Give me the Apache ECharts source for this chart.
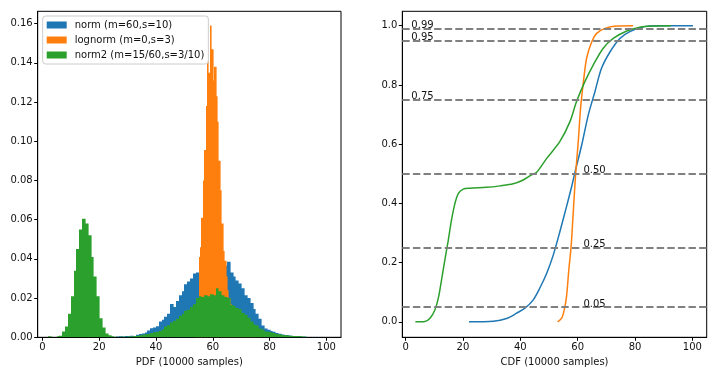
<!DOCTYPE html>
<html>
<head>
<meta charset="utf-8">
<script src="https://cdn.jsdelivr.net/npm/echarts@6/dist/echarts.min.js"></script>
<style>
html,body{margin:0;padding:0;background:#fff;}
#chart{width:716px;height:375px;}
</style>
</head>
<body>
<div id="chart"></div>
<script>
// ---------- DATA ----------
var seriesNames = ['norm (m=60,s=10)', 'lognorm (m=0,s=3)', 'norm2 (m=15/60,s=3/10)'];

// Histogram densities (left panel)
var blueBinStart = 22, blueBinWidth = 1;
var blueDensity = [
  0.0002,0.0003,0.0003,0,0.0004,0.0005,0.0004,0.0006,0.0005,0.0008,
  0.0007,0.0013,0.0017,0.0019,0.0024,0.0035,0.0046,0.0050,0.0056,0.0080,
  0.0090,0.0105,0.0120,0.0170,0.0155,0.0185,0.0215,0.0235,0.0270,0.0285,
  0.0300,0.0325,0.0330,0.0375,0.0360,0.0380,0.0390,0.0400,0.0395,0.0390,
  0.0380,0.0370,0.0365,0.0385,0.0330,0.0310,0.0290,0.0275,0.0250,0.0215,
  0.0200,0.0175,0.0145,0.0120,0.0095,0.0060,0.0045,0.0038,0.0032,0.0028,
  0.0022,0.0018,0.0014,0.0012,0.0010,0.0008,0.0007,0.0005,0.0005,0.0003,
  0.0003,0.0002,0,0.0002,0.0001,0.0002,0,0.0002,0.0002,0.0001
];
var orangeBinStart = 53.5, orangeBinWidth = 0.5;
var orangeDensity = [
  0.001,0.003,0.010,0.041,0.046,0.061,0.080,0.0955,0.118,0.141,
  0.135,0.159,0.147,0.131,0.138,0.123,0.110,0.090,0.075,0.058,
  0.044,0.039,0.031,0.024,0.020,0.017,0.014,0.011,0.008,0.006,
  0.005,0.004,0.003,0.0025,0.002,0.0015,0.0012,0.001,0.0008,0.0006,
  0.0005,0.0004,0.0003,0.0003,0.0002,0.0002,0,0.0002,0,0.0001,0,0.0001
];
var greenBinStart = 2, greenBinWidth = 1;
var greenDensity = [
  0.0005,0,0,0.0005,0.0008,0.003,0.0055,0.012,0.021,0.034,
  0.045,0.055,0.0605,0.058,0.052,0.041,0.031,0.021,0.0097,0.005,
  0.002,0.001,0.0005,0.0003,0,0.0003,0.0003,0.0003,0.0004,0.0004,
  0.0006,0.0008,0.0010,0.0013,0.0015,0.0017,0.0022,0.0026,0.0028,0.0034,
  0.0040,0.0055,0.0062,0.0075,0.0085,0.0095,0.0110,0.0120,0.0135,0.0140,
  0.0155,0.0170,0.0200,0.0210,0.0205,0.0215,0.0210,0.0220,0.0215,0.0250,
  0.0235,0.0215,0.0205,0.0200,0.0165,0.0160,0.0150,0.0145,0.0125,0.0115,
  0.0100,0.0080,0.0065,0.0062,0.0045,0.0040,0.0030,0.0028,0.0026,0.0022,
  0.0017,0.0015,0.0012,0.0011,0.0009,0.0008,0.0007,0.0006,0.0005,0.0004,0.0003
];

// CDF curves (right panel)
var blueCdfX = [22.1,30.6,35.2,38.7,41.6,44.5,46.8,49.2,51.5,53.8,56.1,57.9,59.1,61.4,63.7,66.0,68.3,71.3,74.7,78.2,82.9,88.7,100.2];
var blueCdfY = [0,0.002,0.011,0.029,0.046,0.074,0.114,0.164,0.226,0.305,0.389,0.457,0.507,0.597,0.699,0.777,0.856,0.912,0.957,0.980,0.996,0.9995,1.0];
var orangeCdfX = [53.0,54.4,55.3,56.1,56.9,57.7,58.5,59.3,60.2,61.0,62.0,63.1,64.9,66.6,69.5,73.6,79.3];
var orangeCdfY = [0,0.012,0.04,0.085,0.175,0.254,0.378,0.502,0.609,0.721,0.811,0.89,0.946,0.974,0.991,0.999,1.0];
var greenCdfX = [3.4,6.7,8.5,10.2,11.4,12.5,13.7,14.9,16.0,17.2,18.4,20.1,22.4,28.2,32.9,37.5,41.0,43.9,45.7,49.2,53.8,57.3,59.6,62.5,65.4,68.9,72.4,77.1,81.7,86.0,92.5];
var greenCdfY = [0,0.001,0.012,0.04,0.08,0.14,0.21,0.277,0.344,0.40,0.434,0.448,0.451,0.454,0.459,0.466,0.479,0.496,0.505,0.552,0.609,0.676,0.744,0.811,0.867,0.924,0.957,0.982,0.995,0.999,1.0];

// Quantile reference lines and their label x positions
var quantileLevels = [0.05, 0.25, 0.50, 0.75, 0.95, 0.99];
var quantileLabels = ['0.05', '0.25', '0.50', '0.75', '0.95', '0.99'];
var quantileLabelX = [62, 62, 62, 2, 2, 2];

// Tick labels
var xTicks = [0, 20, 40, 60, 80, 100];
var pdfYTicks = [0, 0.02, 0.04, 0.06, 0.08, 0.10, 0.12, 0.14, 0.16];
var cdfYTicks = [0, 0.2, 0.4, 0.6, 0.8, 1.0];
var pdfTitle = 'PDF (10000 samples)';
var cdfTitle = 'CDF (10000 samples)';

// ---------- CHART ----------
var colors = ['#1f77b4', '#ff7f0e', '#2ca02c'];
var FONT = 'DejaVu Sans';

function bins(start, width, vals) {
  return vals.map(function (v, i) { return [start + i * width, start + (i + 1) * width, v]; });
}
function pairs(xs, ys) { return xs.map(function (x, i) { return [x, ys[i]]; }); }

function makeRectRender(color) {
  return function (params, api) {
    var a = api.coord([api.value(0), api.value(2)]);
    var b = api.coord([api.value(1), 0]);
    var x0 = Math.round(a[0]), x1 = Math.round(b[0]);
    return {
      type: 'rect',
      shape: { x: x0, y: a[1], width: Math.max(x1 - x0, 1) + 0.6, height: b[1] - a[1] },
      style: { fill: color, stroke: null, lineWidth: 0 }
    };
  };
}

function histSeries(idx, data) {
  return {
    type: 'custom', name: seriesNames[idx], xAxisIndex: 0, yAxisIndex: 0,
    data: data, encode: { x: [0, 1], y: 2 }, renderItem: makeRectRender(colors[idx]),
    itemStyle: { color: colors[idx] }, clip: true, silent: true
  };
}
function cdfSeries(idx, data) {
  return {
    type: 'line', name: seriesNames[idx] + ' CDF', xAxisIndex: 1, yAxisIndex: 1,
    data: data, showSymbol: false, smooth: 0.3,
    lineStyle: { color: colors[idx], width: 1.5 }, itemStyle: { color: colors[idx] },
    silent: true, z: 3
  };
}

var axisCommon = {
  axisLine: { show: true, onZero: false, lineStyle: { color: '#000', width: 1 } },
  splitLine: { show: false }
};
function xAxisDef(gi, min, max, title) {
  return Object.assign({}, axisCommon, {
    gridIndex: gi, type: 'value', min: min, max: max,
    axisTick: { show: true, customValues: xTicks, length: 3.5, lineStyle: { color: '#000' } },
    axisLabel: { customValues: xTicks, color: '#111', fontSize: 10, fontFamily: FONT, margin: 5 },
    name: title, nameLocation: 'middle', nameGap: 19,
    nameTextStyle: { color: '#111', fontSize: 10, fontFamily: FONT }
  });
}
function yAxisDef(gi, min, max, ticks, dec) {
  return Object.assign({}, axisCommon, {
    gridIndex: gi, type: 'value', min: min, max: max,
    axisTick: { show: true, customValues: ticks, length: 3.5, lineStyle: { color: '#000' } },
    axisLabel: { customValues: ticks, color: '#111', fontSize: 10, fontFamily: FONT, margin: 5,
      formatter: function (v) { return v.toFixed(dec); } }
  });
}

var labelData = quantileLevels.map(function (q, i) { return [quantileLabelX[i], q, quantileLabels[i]]; });

var option = {
  animation: false,
  backgroundColor: '#fff',
  color: colors,
  grid: [
    { left: 37.7, top: 11.3, width: 303.3, height: 326, show: true, borderColor: '#000', borderWidth: 1, backgroundColor: 'transparent' },
    { left: 402.3, top: 11.3, width: 304.4, height: 326, show: true, borderColor: '#000', borderWidth: 1, backgroundColor: 'transparent' }
  ],
  xAxis: [ xAxisDef(0, -1.64, 105.16, pdfTitle), xAxisDef(1, -1.16, 104.98, cdfTitle) ],
  yAxis: [ yAxisDef(0, 0, 0.1663, pdfYTicks, 2), yAxisDef(1, -0.0524, 1.0486, cdfYTicks, 1) ],
  legend: {
    data: seriesNames, orient: 'vertical', left: 42.7, top: 16,
    itemWidth: 20, itemHeight: 7, itemGap: 3, icon: 'rect',
    padding: [3, 4, 3, 4], borderColor: '#ccc', borderWidth: 1, borderRadius: 3,
    backgroundColor: 'rgba(255,255,255,0.8)', selectedMode: false,
    textStyle: { color: '#111', fontSize: 10, fontFamily: FONT, lineHeight: 12, padding: [0, 0, 0, 3] }
  },
  series: [
    histSeries(0, bins(blueBinStart, blueBinWidth, blueDensity)),
    histSeries(1, bins(orangeBinStart, orangeBinWidth, orangeDensity)),
    histSeries(2, bins(greenBinStart, greenBinWidth, greenDensity)),
    {
      type: 'line', name: 'quantiles', xAxisIndex: 1, yAxisIndex: 1, data: [], silent: true,
      markLine: {
        silent: true, symbol: 'none', animation: false,
        label: { show: false },
        lineStyle: { color: '#808080', width: 2, type: [7.4, 3.2] },
        data: quantileLevels.map(function (q) { return { yAxis: q }; })
      }, z: 2
    },
    cdfSeries(0, pairs(blueCdfX, blueCdfY)),
    cdfSeries(1, pairs(orangeCdfX, orangeCdfY)),
    cdfSeries(2, pairs(greenCdfX, greenCdfY)),
    {
      type: 'custom', name: 'qlabels', xAxisIndex: 1, yAxisIndex: 1, data: labelData,
      encode: { x: 0, y: 1 }, silent: true, z: 5,
      renderItem: function (params, api) {
        var p = api.coord([api.value(0), api.value(1)]);
        return { type: 'text', x: p[0], y: p[1] + 2,
          style: { text: labelData[params.dataIndex][2], fill: '#111', font: '10px "DejaVu Sans"', textAlign: 'left', textVerticalAlign: 'bottom' } };
      }
    }
  ]
};

var chart = echarts.init(document.getElementById('chart'), null, { renderer: 'canvas', width: 716, height: 375 });
chart.setOption(option);
</script>
</body>
</html>
